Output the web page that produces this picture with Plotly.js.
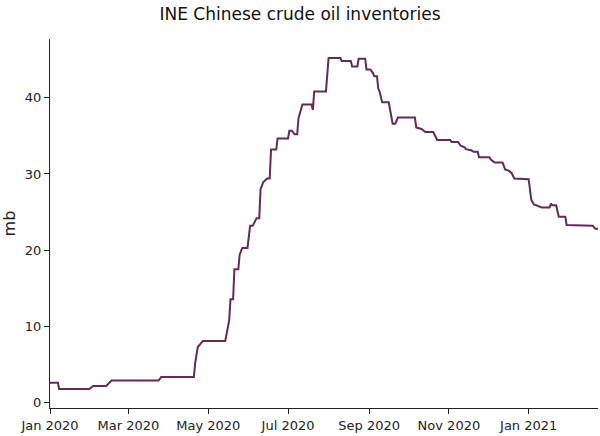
<!DOCTYPE html>
<html>
<head>
<meta charset="utf-8">
<script src="https://cdn.plot.ly/plotly-3.0.1.min.js"></script>
<style>html,body{margin:0;padding:0;background:#fff;}#chart{width:600px;height:436px;}</style>
</head>
<body>
<div id="chart"></div>
<script>
const dates = [
  "2020-01-01","2020-01-07","2020-01-08","2020-01-31","2020-02-03","2020-02-13","2020-02-17",
  "2020-03-24","2020-03-26","2020-04-20","2020-04-21","2020-04-23","2020-04-27","2020-05-14",
  "2020-05-17","2020-05-18","2020-05-20","2020-05-21","2020-05-24","2020-05-25","2020-05-27",
  "2020-05-31","2020-06-02","2020-06-04","2020-06-07","2020-06-09","2020-06-10","2020-06-12",
  "2020-06-15","2020-06-17","2020-06-18","2020-06-22","2020-06-23","2020-07-01","2020-07-02",
  "2020-07-04","2020-07-06","2020-07-08","2020-07-09","2020-07-12","2020-07-19","2020-07-20",
  "2020-07-21","2020-07-30","2020-08-01","2020-08-10","2020-08-11","2020-08-18","2020-08-19",
  "2020-08-23","2020-08-24","2020-08-29","2020-08-30","2020-09-02","2020-09-04","2020-09-05",
  "2020-09-07","2020-09-08","2020-09-09","2020-09-11","2020-09-16","2020-09-19","2020-09-21",
  "2020-09-23","2020-10-06","2020-10-07","2020-10-11","2020-10-14","2020-10-20","2020-10-23",
  "2020-11-02","2020-11-03","2020-11-08","2020-11-10","2020-11-13","2020-11-14","2020-11-18",
  "2020-11-20","2020-11-23","2020-11-24","2020-12-02","2020-12-03","2020-12-06","2020-12-12",
  "2020-12-14","2020-12-17","2020-12-19","2020-12-21","2021-01-01","2021-01-03","2021-01-05",
  "2021-01-08","2021-01-11","2021-01-17","2021-01-18","2021-01-19","2021-01-22","2021-01-24",
  "2021-01-29","2021-01-30","2021-02-19","2021-02-21","2021-02-23"
];
const inventories = [
  2.6, 2.6, 1.8, 1.8, 2.2, 2.2, 2.9,
  2.9, 3.35, 3.35, 5.2, 7.3, 8.1, 8.1,
  10.8, 13.55, 13.55, 17.5, 17.5, 19.4, 20.3,
  20.3, 23.2, 23.2, 24.2, 24.2, 28.0, 28.9,
  29.4, 29.4, 33.2, 33.2, 34.65, 34.65, 35.65,
  35.65, 35.2, 35.2, 37.3, 39.1, 39.1, 38.4,
  40.8, 40.8, 45.2, 45.2, 44.8, 44.8, 44.1,
  44.1, 45.1, 45.1, 43.7, 43.7, 43.2, 42.8,
  42.8, 41.2, 40.8, 39.4, 39.4, 36.6, 36.6,
  37.4, 37.4, 36.1, 35.9, 35.5, 35.5, 34.45,
  34.45, 34.2, 34.2, 33.7, 33.5, 33.25, 33.1,
  32.9, 32.9, 32.2, 32.2, 31.9, 31.5, 31.5,
  30.6, 30.4, 30.1, 29.4, 29.3, 26.6, 26.0,
  25.8, 25.6, 25.6, 26.1, 25.9, 25.9, 24.4,
  24.4, 23.3, 23.2, 22.8, 22.8
];
const yTicks = [0, 10, 20, 30, 40];

const fontFam = "DejaVu Sans, Verdana, sans-serif";
Plotly.newPlot("chart", [{
  x: dates,
  y: inventories,
  type: "scatter",
  mode: "lines",
  line: {color: "#632b58", width: 2},
  hoverinfo: "x+y"
}], {
  width: 600, height: 436,
  margin: {l: 50, r: 2, t: 39, b: 28},
  paper_bgcolor: "#ffffff",
  plot_bgcolor: "#ffffff",
  showlegend: false,
  font: {family: fontFam, size: 13, color: "#222"},
  title: {text: "INE Chinese crude oil inventories", x: 0.5, xanchor: "center", y: 0.968, yanchor: "middle",
          font: {family: fontFam, size: 17, color: "#111"}},
  xaxis: {
    type: "date",
    range: ["2020-01-01", "2021-02-23"],
    showgrid: false, zeroline: false,
    showline: true, linecolor: "#222", linewidth: 1,
    ticks: "outside", ticklen: 5, tickcolor: "#222",
    dtick: "M2", tick0: "2020-01-01", tickformat: "%b %Y",
    tickfont: {family: fontFam, size: 13, color: "#222"}
  },
  yaxis: {
    range: [-0.7, 47.7],
    showgrid: false, zeroline: false,
    showline: true, linecolor: "#222", linewidth: 1,
    ticks: "outside", ticklen: 5, tickcolor: "#222",
    tickvals: yTicks,
    tickfont: {family: fontFam, size: 13, color: "#222"},
    title: {text: "mb", font: {family: fontFam, size: 16, color: "#222"}, standoff: 6}
  }
}, {displayModeBar: false, staticPlot: true});
</script>
</body>
</html>
